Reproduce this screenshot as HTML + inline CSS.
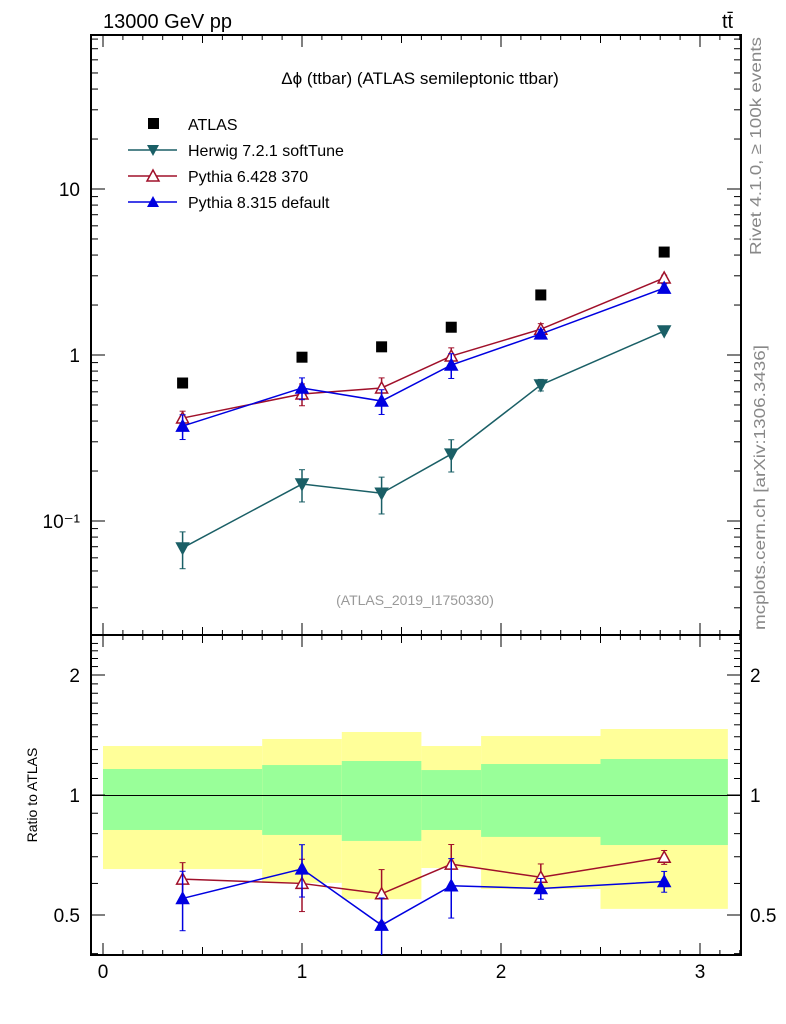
<!DOCTYPE html>
<html><head><meta charset="utf-8"><style>
body{margin:0;background:#fff;}
svg{display:block;font-family:"Liberation Sans",sans-serif;}
</style></head><body>
<svg id="chart" width="786" height="1024" xmlns="http://www.w3.org/2000/svg">
<text x="103" y="28" font-size="20">13000 GeV pp</text>
<text x="722" y="28" font-size="20">tt̄</text>
<text x="420" y="84" font-size="17" text-anchor="middle">Δϕ (ttbar) (ATLAS semileptonic ttbar)</text>
<text x="415" y="605" font-size="14" fill="#999" text-anchor="middle">(ATLAS_2019_I1750330)</text>
<text transform="translate(761,255) rotate(-90)" font-size="16" fill="#888" textLength="218" lengthAdjust="spacingAndGlyphs">Rivet 4.1.0, ≥ 100k events</text>
<text transform="translate(765,630) rotate(-90)" font-size="16" fill="#888" textLength="285" lengthAdjust="spacingAndGlyphs">mcplots.cern.ch [arXiv:1306.3436]</text>
<text transform="translate(37,795) rotate(-90)" font-size="14" text-anchor="middle">Ratio to ATLAS</text>
<g id="legend">
<rect x="148" y="118" width="11" height="11" fill="#000"/>
<text x="188" y="130" font-size="16">ATLAS</text>
<line x1="128" y1="150" x2="177" y2="150" stroke="#1a5f66" stroke-width="1.5"/>
<path d="M147,145 L159,145 L153,156 Z" fill="#1a5f66"/>
<text x="188" y="156" font-size="16">Herwig 7.2.1 softTune</text>
<line x1="128" y1="176" x2="177" y2="176" stroke="#a0102a" stroke-width="1.5"/>
<path d="M153,170 L159,181 L147,181 Z" fill="#fff" stroke="#a0102a" stroke-width="1.5"/>
<text x="188" y="182" font-size="16">Pythia 6.428 370</text>
<line x1="128" y1="202" x2="177" y2="202" stroke="#0000e0" stroke-width="1.5"/>
<path d="M153,196 L159,207 L147,207 Z" fill="#0000e0"/>
<text x="188" y="208" font-size="16">Pythia 8.315 default</text>
</g>
</svg>
<script>
const xCenters=[0.4,1.0,1.4,1.75,2.2,2.82];
const binEdges=[0,0.8,1.2,1.6,1.9,2.5,3.14];
const atlasVals=[0.678,0.97,1.12,1.47,2.30,4.17];
const herwigVals=[0.0688,0.167,0.147,0.253,0.66,1.395];
const herwigErr=[0.25,0.22,0.25,0.22,0.08,0.03];
const py6Vals=[0.417,0.582,0.633,0.986,1.43,2.91];
const py6Err=[0.1,0.15,0.15,0.12,0.08,0.04];
const py8Vals=[0.373,0.633,0.528,0.87,1.34,2.53];
const py8Err=[0.17,0.15,0.17,0.17,0.06,0.06];
const yellowHi=[1.327,1.382,1.439,1.327,1.406,1.464];
const yellowLo=[0.652,0.602,0.548,0.656,0.581,0.518];
const greenHi=[1.162,1.189,1.217,1.155,1.196,1.231];
const greenLo=[0.817,0.794,0.767,0.817,0.785,0.749];
const xTicks=[0,1,2,3];
const mainTicks=[{v:10,l:"10"},{v:1,l:"1"},{v:0.1,l:"10\u207B\u00B9"}];
const ratioTicks=[{v:2,l:"2"},{v:1,l:"1"},{v:0.5,l:"0.5"}];

const svg=document.getElementById('chart');
const NS='http://www.w3.org/2000/svg';
const L=91,R=741,T=35,M=635,B=955;
const X=v=>103+199*v;
const Ym=v=>355-166*Math.log10(v);
const Yr=v=>795-120*Math.log2(v);
function mk(tag,attrs,parent){const e=document.createElementNS(NS,tag);for(const k in attrs)e.setAttribute(k,attrs[k]);(parent||svg).appendChild(e);return e;}

for(let i=0;i<xCenters.length;i++){
 const x0=X(binEdges[i]),x1=X(binEdges[i+1]);
 const y=mk('rect',{x:x0,y:Yr(yellowHi[i]),width:x1-x0,height:Yr(yellowLo[i])-Yr(yellowHi[i]),fill:'#ffff99'});
 
 
 const g=mk('rect',{x:x0,y:Yr(greenHi[i]),width:x1-x0,height:Yr(greenLo[i])-Yr(greenHi[i]),fill:'#99ff99'});
 
 
}
mk('line',{x1:L,y1:795.5,x2:R,y2:795.5,stroke:'#000','stroke-width':1});

const f1=mk('rect',{x:L,y:T,width:R-L,height:M-T,fill:'none',stroke:'#000','stroke-width':2});


const f2=mk('rect',{x:L,y:M,width:R-L,height:B-M,fill:'none',stroke:'#000','stroke-width':2});



for(let k=0;k<=32;k++){const x=X(k/10);const len=k%10===0?12:(k%5===0?8:5);
 mk('line',{x1:x,y1:B,x2:x,y2:B-len,stroke:'#000'});mk('line',{x1:x,y1:M,x2:x,y2:M-len,stroke:'#000'});
 mk('line',{x1:x,y1:T,x2:x,y2:T+len,stroke:'#000'});mk('line',{x1:x,y1:M,x2:x,y2:M+len,stroke:'#000'});}
xTicks.forEach(v=>{const t=mk('text',{x:X(v),y:978,'font-size':19,'text-anchor':'middle'});t.textContent=v;
 
 });

for(let d=-2;d<=1;d++){for(let m=1;m<10;m++){const v=m*Math.pow(10,d);const y=Ym(v);if(y<T||y>M)continue;
 const len=m===1?14:7;
 mk('line',{x1:L,y1:y,x2:L+len,y2:y,stroke:'#000'});mk('line',{x1:R,y1:y,x2:R-len,y2:y,stroke:'#000'});}}
mainTicks.forEach(o=>{const t=mk('text',{x:80,y:Ym(o.v)+7,'font-size':19,'text-anchor':'end'});t.textContent=o.l;
 
 });

for(let v=0.4;v<=2.5;v+=0.1){const vv=Math.round(v*10)/10;const y=Yr(vv);if(y<M||y>B)continue;
 const len=(vv===0.5||vv===1||vv===2)?14:7;
 mk('line',{x1:L,y1:y,x2:L+len,y2:y,stroke:'#000'});mk('line',{x1:R,y1:y,x2:R-len,y2:y,stroke:'#000'});}
ratioTicks.forEach(o=>{const t=mk('text',{x:80,y:Yr(o.v)+7,'font-size':19,'text-anchor':'end'});t.textContent=o.l;
 
 
 const t2=mk('text',{x:750,y:Yr(o.v)+7,'font-size':19});t2.textContent=o.l;
 
 });

function series(vals,errs,color,marker,name,yf,ratio){
 const g=mk('g',{});
 
 
 const lo0=ratio?M:T, hi0=ratio?B:M;
 const clip=y=>Math.max(lo0,Math.min(hi0,y));
 const pts=vals.map((v,i)=>{const val=ratio?v/atlasVals[i]:v;return [X(xCenters[i]),yf(val),val];});
 mk('polyline',{points:pts.map(p=>p[0]+','+p[1]).join(' '),fill:'none',stroke:color,'stroke-width':1.5},g);
 pts.forEach((p,i)=>{
  const lo=clip(yf(p[2]*(1-errs[i]))),hi=clip(yf(p[2]*(1+errs[i])));
  mk('line',{x1:p[0],y1:lo,x2:p[0],y2:hi,stroke:color,'stroke-width':1.5},g);
  if(lo<hi0)mk('line',{x1:p[0]-3,y1:lo,x2:p[0]+3,y2:lo,stroke:color},g);
  mk('line',{x1:p[0]-3,y1:hi,x2:p[0]+3,y2:hi,stroke:color},g);
  let d;
  if(marker==='down')d=`M${p[0]-6},${p[1]-5} L${p[0]+6},${p[1]-5} L${p[0]},${p[1]+6} Z`;
  else d=`M${p[0]},${p[1]-6} L${p[0]+6},${p[1]+5} L${p[0]-6},${p[1]+5} Z`;
  const m=mk('path',{d:d,fill:marker==='open'?'#fff':color,stroke:color,'stroke-width':1.5},g);
  
  
 });
}
series(herwigVals,herwigErr,'#1a5f66','down','herwig-series',Ym,false);
series(py6Vals,py6Err,'#a0102a','open','pythia6-series',Ym,false);
series(py8Vals,py8Err,'#0000e0','up','pythia8-series',Ym,false);
atlasVals.forEach((v,i)=>{const r=mk('rect',{x:X(xCenters[i])-5.5,y:Ym(v)-5.5,width:11,height:11,fill:'#000'});
 
 });
series(py6Vals,py6Err,'#a0102a','open','pythia6-ratio',Yr,true);
series(py8Vals,py8Err,'#0000e0','up','pythia8-ratio',Yr,true);
</script>
</body></html>
